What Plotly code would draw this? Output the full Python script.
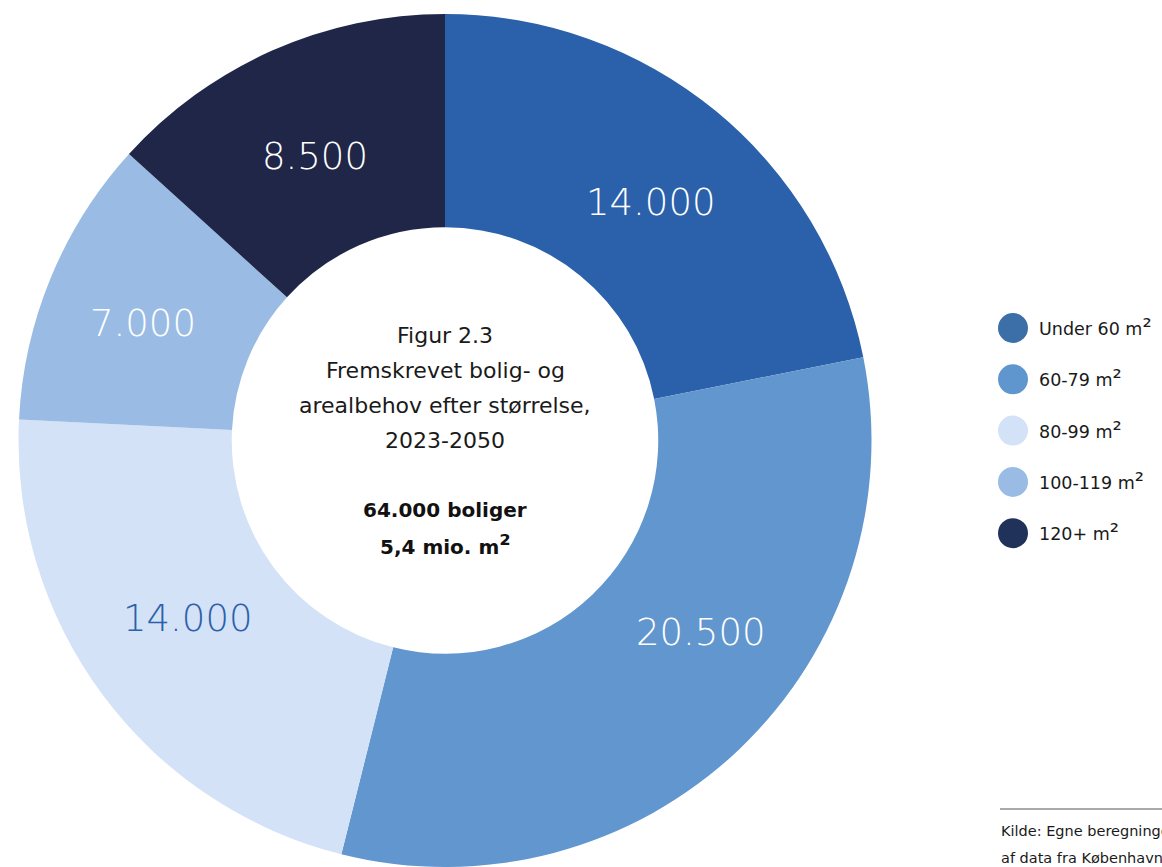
import plotly.graph_objects as go

# ---- data ----
categories = ["Under 60 m²", "60-79 m²", "80-99 m²", "100-119 m²", "120+ m²"]
values = [14000, 20500, 14000, 7000, 8500]
slice_colors = ["#2B60AA", "#6196CE", "#D3E2F6", "#9ABCE4", "#1F2647"]
legend_colors = ["#3C6EA7", "#6096CE", "#D3E2F6", "#9ABCE4", "#20325A"]
label_colors = ["#FFFFFF", "#FFFFFF", "#2B60AA", "#FFFFFF", "#FFFFFF"]
center_lines = ["Figur 2.3", "Fremskrevet bolig- og", "arealbehov efter størrelse,", "2023-2050"]
center_bold = ["64.000 boliger", "5,4 mio. m²"]
source_lines = ["Kilde: Egne beregninger på baggrund", "af data fra Københavns Kommune"]

W, H = 1162, 867
MT = 14
FONT = "DejaVu Sans"


def px(x):
    return x / W


def py(y):
    return (H - y) / (H - MT)


def sup(t, size):
    return t.replace("²", f'<span style="font-size:{size}px">²</span>')


R = (H - MT) / 2
CX = 445

fig = go.Figure()
fig.add_trace(go.Pie(
    labels=categories,
    values=values,
    sort=False,
    direction="clockwise",
    rotation=0,
    hole=0.5,
    marker=dict(colors=slice_colors, line=dict(width=0)),
    textinfo="none",
    hoverinfo="label+value",
    showlegend=False,
    domain=dict(x=[(CX - R) / W, (CX + R) / W], y=[0, 1]),
))

annotations = []
# slice value labels
label_pos = [(650, 202), (700, 632), (187, 618), (143, 323), (315, 156)]
for v, c, (lx, ly) in zip(values, label_colors, label_pos):
    annotations.append(dict(
        x=px(lx), y=py(ly), xref="paper", yref="paper",
        text=f"{v:,}".replace(",", "."), showarrow=False,
        font=dict(family=FONT, size=37, color=c, weight=300),
        xanchor="center", yanchor="middle"))

# center text
for i, t in enumerate(center_lines):
    annotations.append(dict(
        x=px(445), y=py(335 + i * 35), xref="paper", yref="paper",
        text=t, showarrow=False,
        font=dict(family=FONT, size=22, color="#1a1a1a"),
        xanchor="center", yanchor="middle"))
for i, t in enumerate(center_bold):
    annotations.append(dict(
        x=px(445), y=py(510 + i * 35), xref="paper", yref="paper",
        text=sup(t, 26), showarrow=False,
        font=dict(family=FONT, size=20, color="#111111", weight="bold"),
        xanchor="center", yanchor="middle"))

shapes = []
# custom legend
for i, (cat, col) in enumerate(zip(categories, legend_colors)):
    cy = 328 + i * 51.3
    shapes.append(dict(type="circle", xref="paper", yref="paper",
                       x0=px(998), x1=px(1028), y0=py(cy + 15), y1=py(cy - 15),
                       fillcolor=col, line=dict(width=0)))
    annotations.append(dict(
        x=px(1037), y=py(cy - 1), xref="paper", yref="paper",
        text=sup(cat, 23), showarrow=False,
        font=dict(family=FONT, size=17.5, color="#1a1a1a"),
        xanchor="left", yanchor="middle"))

# source
shapes.append(dict(type="line", xref="paper", yref="paper",
                   x0=px(1000), x1=px(1162), y0=py(809), y1=py(809),
                   line=dict(color="#555555", width=1)))
for i, t in enumerate(source_lines):
    annotations.append(dict(
        x=px(999), y=py(831 + i * 27), xref="paper", yref="paper",
        text=t, showarrow=False,
        font=dict(family=FONT, size=14.5, color="#1a1a1a"),
        xanchor="left", yanchor="middle"))

fig.update_layout(
    width=W, height=H,
    margin=dict(l=0, r=0, t=MT, b=0, pad=0),
    paper_bgcolor="white", plot_bgcolor="white",
    annotations=annotations, shapes=shapes,
    showlegend=False,
)

fig.write_html("out.html", config={"displayModeBar": False},
               post_script="document.body.style.margin='0';document.body.style.overflow='hidden';")
